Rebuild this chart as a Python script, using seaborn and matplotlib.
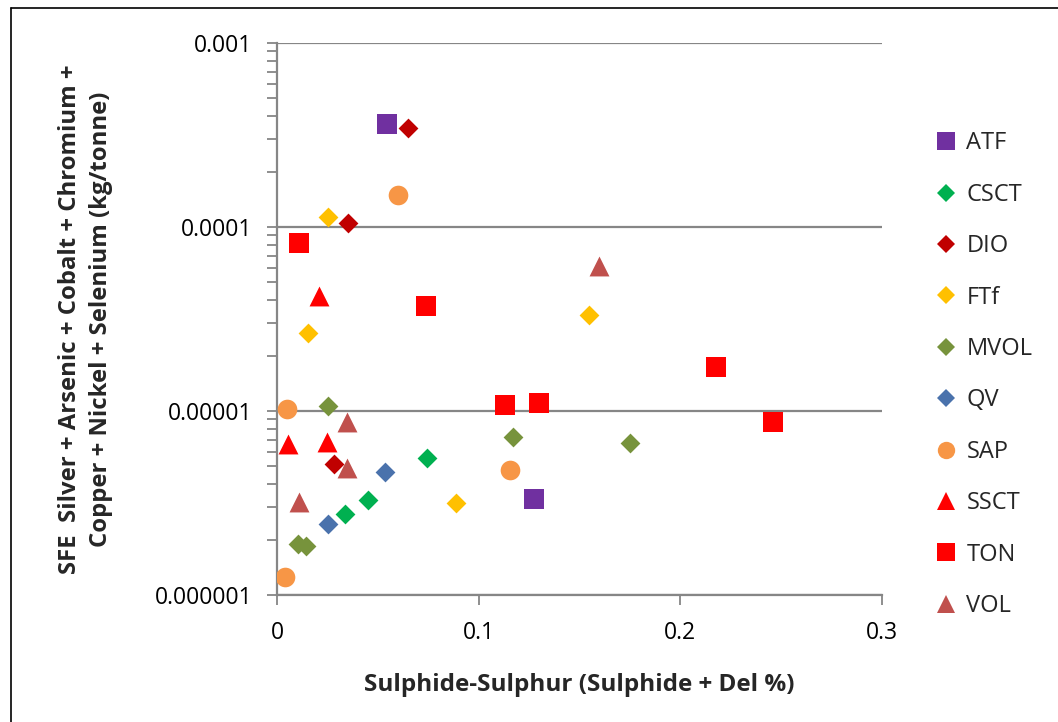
import matplotlib
matplotlib.use("Agg")
import matplotlib.pyplot as plt
from matplotlib.lines import Line2D
from matplotlib.ticker import LogLocator, NullFormatter, FixedLocator, FixedFormatter
import numpy as np
import pandas as pd
import seaborn as sns

# Sulphide-sulphur (%) and SFE metal totals (kg/tonne) per rock group
atf_x = [0.0545, 0.1274]
atf_y = [3.63e-4, 3.33e-6]
csct_x = [0.0742, 0.0450, 0.0337]
csct_y = [5.53e-6, 3.27e-6, 2.75e-6]
dio_x = [0.0650, 0.0351, 0.0284]
dio_y = [3.45e-4, 1.047e-4, 5.13e-6]
ftf_x = [0.0251, 0.0155, 0.1547, 0.0889]
ftf_y = [1.14e-4, 2.64e-5, 3.32e-5, 3.16e-6]
mvol_x = [0.0255, 0.1172, 0.1750, 0.0106, 0.0142]
mvol_y = [1.07e-5, 7.2e-6, 6.7e-6, 1.89e-6, 1.85e-6]
qv_x = [0.0537, 0.0253]
qv_y = [4.68e-6, 2.42e-6]
sap_x = [0.0602, 0.0050, 0.1153, 0.0041]
sap_y = [1.49e-4, 1.03e-5, 4.78e-6, 1.25e-6]
ssct_x = [0.0210, 0.0056, 0.0250]
ssct_y = [4.2e-5, 6.64e-6, 6.8e-6]
ton_x = [0.0109, 0.0741, 0.1131, 0.1297, 0.2175, 0.2460]
ton_y = [8.2e-5, 3.74e-5, 1.08e-5, 1.10e-5, 1.73e-5, 8.7e-6]
vol_x = [0.1598, 0.0349, 0.0346, 0.0109]
vol_y = [6.16e-5, 8.7e-6, 4.92e-6, 3.19e-6]

groups = ["ATF", "CSCT", "DIO", "FTf", "MVOL", "QV", "SAP", "SSCT", "TON", "VOL"]
xs = [atf_x, csct_x, dio_x, ftf_x, mvol_x, qv_x, sap_x, ssct_x, ton_x, vol_x]
ys = [atf_y, csct_y, dio_y, ftf_y, mvol_y, qv_y, sap_y, ssct_y, ton_y, vol_y]

x_ticks = [0, 0.1, 0.2, 0.3]
x_tick_labels = ["0", "0.1", "0.2", "0.3"]
y_ticks = [1e-6, 1e-5, 1e-4, 1e-3]
y_tick_labels = ["0.000001", "0.00001", "0.0001", "0.001"]

colors = {
    "ATF": "#7030A0", "CSCT": "#00B050", "DIO": "#C00000", "FTf": "#FFC000",
    "MVOL": "#77933C", "QV": "#4A72AC", "SAP": "#F79646", "SSCT": "#FF0000",
    "TON": "#FF0000", "VOL": "#C0504D",
}
markers = {
    "ATF": "s", "CSCT": "D", "DIO": "D", "FTf": "D", "MVOL": "D",
    "QV": "D", "SAP": "o", "SSCT": "^", "TON": "s", "VOL": "^",
}
sizes = {"s": 205, "D": 102, "o": 200, "^": 205}

df = pd.DataFrame({
    "x": np.concatenate(xs),
    "y": np.concatenate(ys),
    "group": np.concatenate([[g] * len(v) for g, v in zip(groups, xs)]),
})

sns.set_theme(style="white")
plt.rcParams["font.family"] = ["Open Sans", "DejaVu Sans"]

fig = plt.figure(figsize=(10.58, 7.22), dpi=100)
ax = fig.add_axes([277 / 1058, 1 - 595 / 722, (882 - 277) / 1058, (595 - 43) / 722])

for g in groups:
    sub = df[df["group"] == g]
    sns.scatterplot(data=sub, x="x", y="y", ax=ax, color=colors[g],
                    marker=markers[g], s=sizes[markers[g]], linewidth=0,
                    legend=False, zorder=3)

ax.set_yscale("log")
ax.set_xlim(0, 0.3)
ax.set_ylim(1e-6, 1e-3)

ax.xaxis.set_major_locator(FixedLocator(x_ticks))
ax.xaxis.set_major_formatter(FixedFormatter(x_tick_labels))
ax.yaxis.set_major_locator(FixedLocator(y_ticks))
ax.yaxis.set_major_formatter(FixedFormatter(y_tick_labels))
ax.yaxis.set_minor_locator(LogLocator(base=10, subs=np.arange(2, 10)))
ax.yaxis.set_minor_formatter(NullFormatter())

grey = "#868686"
ax.grid(axis="y", which="major", color=grey, linewidth=1.6, zorder=0)
ax.grid(axis="x", visible=False)
ax.set_axisbelow(True)
for side in ("top", "right"):
    ax.spines[side].set_visible(False)
for side in ("left", "bottom"):
    ax.spines[side].set_color(grey)
    ax.spines[side].set_linewidth(1.6)

ax.tick_params(axis="both", which="both", direction="out", color=grey,
               width=1.3, length=7, labelsize=16.5, labelcolor="black")
ax.tick_params(axis="y", which="both", left=True, pad=11)
ax.tick_params(axis="x", which="major", bottom=True, pad=12)
ax.tick_params(axis="x", which="minor", bottom=False)

ax.set_xlabel("Sulphide-Sulphur (Sulphide + Del %)", fontsize=17.5,
              fontweight="bold", labelpad=20)
ax.set_ylabel("SFE  Silver + Arsenic + Cobalt + Chromium +\n"
              "Copper + Nickel + Selenium (kg/tonne)", fontsize=17.2,
              fontweight="bold", labelpad=30, linespacing=1.4)

handles = [
    Line2D([], [], linestyle="none", marker=markers[g], color=colors[g],
           markersize=(12.5 if markers[g] != "D" else 9.0), markeredgewidth=0)
    for g in groups
]
fig.legend(handles, groups, loc="upper left",
           bbox_to_anchor=(925 / 1058, 1 - 122 / 722), frameon=False,
           fontsize=17, labelspacing=1.16, handletextpad=0.35,
           handlelength=1.0, borderaxespad=0)

# outer chart frame (top and left edges)
fig.add_artist(Line2D([11 / 1058, 11 / 1058], [0, 1 - 8 / 722],
                      transform=fig.transFigure, color="black", linewidth=1.2))
fig.add_artist(Line2D([11 / 1058, 1], [1 - 8 / 722, 1 - 8 / 722],
                      transform=fig.transFigure, color="black", linewidth=1.2))

fig.savefig("out.png", dpi=100, facecolor="white")
